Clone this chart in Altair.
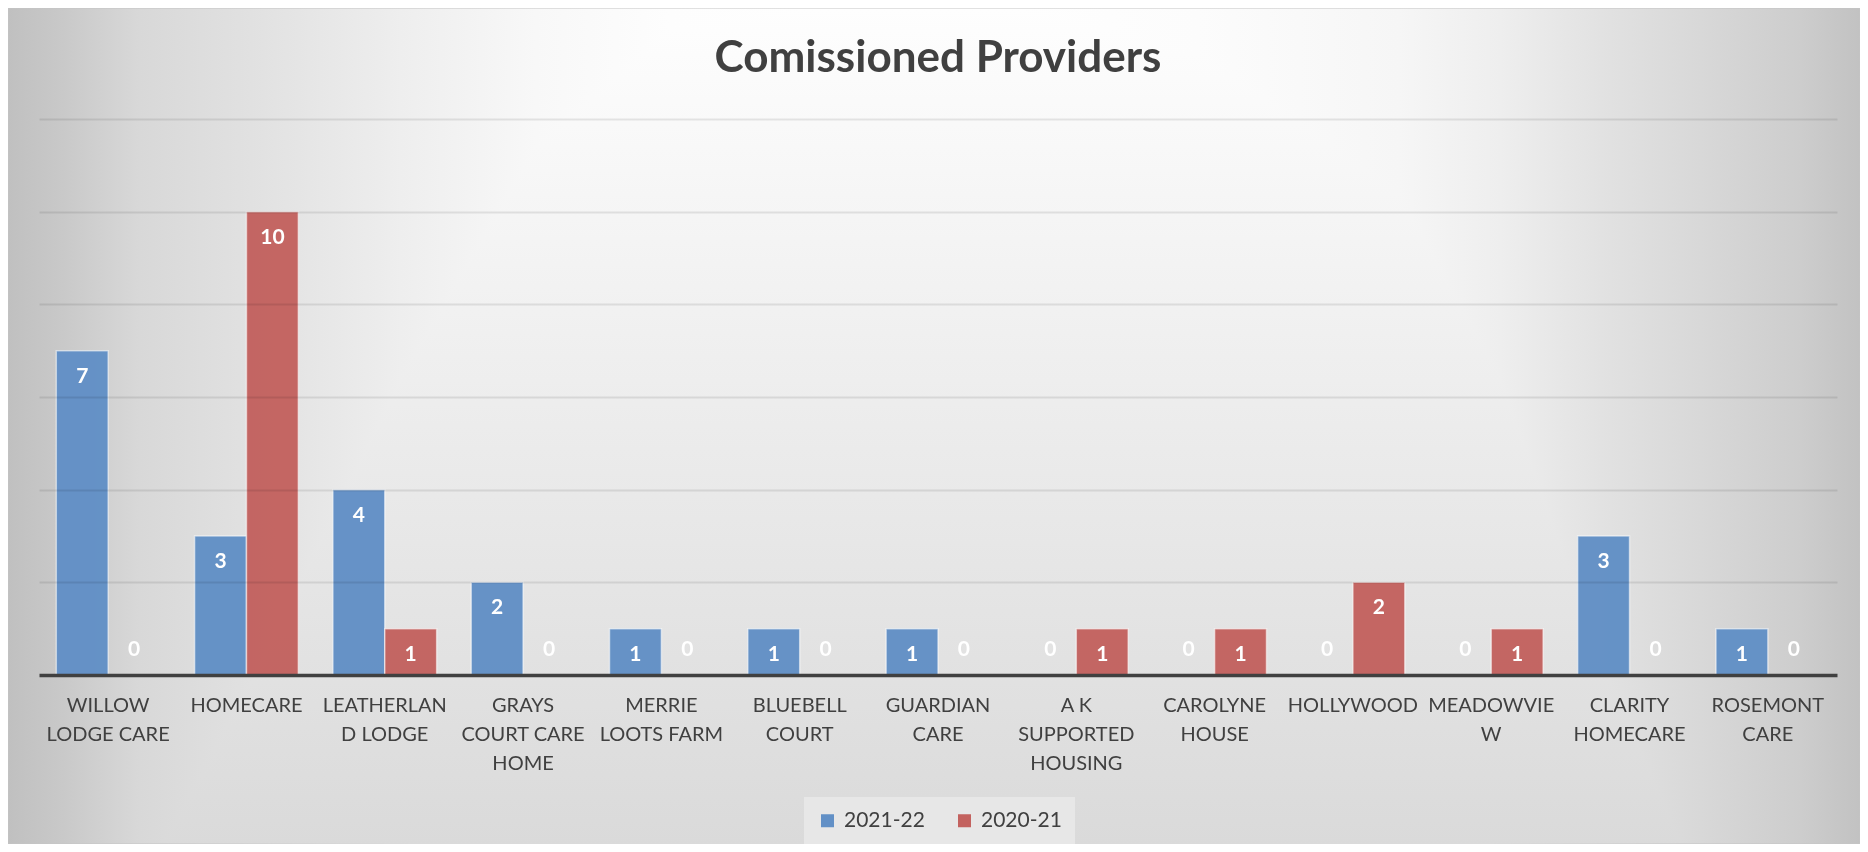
import altair as alt
import pandas as pd

# ---- data ----
categories = [
    "WILLOW|LODGE CARE", "HOMECARE", "LEATHERLAN|D LODGE", "GRAYS|COURT CARE|HOME",
    "MERRIE|LOOTS FARM", "BLUEBELL|COURT", "GUARDIAN|CARE", "A K|SUPPORTED|HOUSING",
    "CAROLYNE|HOUSE", "HOLLYWOOD", "MEADOWVIE|W", "CLARITY|HOMECARE", "ROSEMONT|CARE",
]
series_names = ["2021-22", "2020-21"]
values_2021_22 = [7, 3, 4, 2, 1, 1, 1, 0, 0, 0, 0, 3, 1]
values_2020_21 = [0, 10, 1, 0, 0, 0, 0, 1, 1, 2, 1, 0, 0]
series_colors = ["#6290C6", "#C3625F"]
grid_values = [2, 4, 6, 8, 10, 12]

rows = []
for cat, a, b in zip(categories, values_2021_22, values_2020_21):
    rows.append({"cat": cat, "series": series_names[0], "value": a})
    rows.append({"cat": cat, "series": series_names[1], "value": b})
df = pd.DataFrame(rows)

# ---- layout ----
W, H = 1798, 556
PAD = {"left": 31, "top": 111, "right": 23, "bottom": 169}
FONT = "Lato"

bg_data = alt.Data(values=[{"k": 0}])
h_stops = [
    (0.0, "#c0c0c0"), (0.027, "#c8c8c8"), (0.071, "#d8d8d8"), (0.138, "#e2e2e2"),
    (0.212, "#eeeeee"), (0.285, "#f8f8f8"), (0.357, "#fdfdfd"), (0.5, "#ffffff"),
    (0.643, "#fcfcfc"), (0.751, "#f6f6f6"), (0.806, "#eeeeee"), (0.86, "#e2e2e2"),
    (0.914, "#d8d8d8"), (0.968, "#cdcdcd"), (1.0, "#c2c2c2"),
]
v_stops = [(0.0, "#fefefe"), (1.0, "#dadada")]

bg_enc = dict(
    x=alt.value(-PAD["left"]), x2=alt.value(W + PAD["right"]),
    y=alt.value(-PAD["top"]), y2=alt.value(H + PAD["bottom"]),
)
bg_h = alt.Chart(bg_data).mark_rect(
    fill=alt.Gradient(gradient="linear", x1=0, x2=1, y1=0, y2=0,
                      stops=[alt.GradientStop(offset=o, color=c) for o, c in h_stops]),
    stroke="#c4c4c4", strokeWidth=1,
).encode(**bg_enc)
bg_v = alt.Chart(bg_data).mark_rect(
    fill=alt.Gradient(gradient="linear", x1=0, x2=0, y1=0, y2=1,
                      stops=[alt.GradientStop(offset=o, color=c) for o, c in v_stops]),
    blend="darken",
).encode(**bg_enc)

x_enc = alt.X(
    "cat:N", sort=categories, title=None,
    scale=alt.Scale(paddingInner=0.25, paddingOuter=0.125),
    axis=alt.Axis(
        labelAngle=0, labelExpr="split(datum.label, '|')", labelFont=FONT,
        labelFontSize=20, labelColor="#404040", labelLineHeight=29,
        labelPadding=20, labelBaseline="top", labelOverlap=False, labelBound=False,
        labelLimit=0, ticks=False, domainColor="#404040", domainWidth=3.5,
        grid=False, zindex=2,
    ),
)
y_enc = alt.Y(
    "value:Q", title=None,
    scale=alt.Scale(domain=[0, 12], nice=False),
    axis=alt.Axis(
        values=grid_values, labels=False, ticks=False, domain=False, grid=True,
        gridColor="#000000", gridOpacity=0.09, gridWidth=2, zindex=1,
    ),
)
xoff = alt.XOffset("series:N", sort=series_names)
color = alt.Color(
    "series:N", sort=series_names,
    scale=alt.Scale(domain=series_names, range=series_colors),
    legend=alt.Legend(
        title=None, orient="none", legendX=765, legendY=678, direction="horizontal",
        symbolType="square", symbolSize=169, symbolStrokeWidth=0, symbolOpacity=1,
        labelFont=FONT, labelFontSize=21, labelColor="#404040", labelOffset=6,
        columnPadding=29, padding=13, fillColor="#e7e7e7",
    ),
)

base = alt.Chart(df)
bars = base.mark_bar(stroke="#ffffff", strokeOpacity=0.55, strokeWidth=1.5, opacity=0.97).encode(
    x=x_enc, y=y_enc, xOffset=xoff, color=color,
).transform_filter("datum.value > 0")

lbl_style = dict(font=FONT, fontSize=21, fontWeight="bold", color="#ffffff", baseline="middle", align="center")
labels_pos = base.mark_text(dy=26, **lbl_style).encode(
    x=alt.X("cat:N", sort=categories), y=alt.Y("value:Q"), xOffset=xoff, text="value:Q",
).transform_filter("datum.value > 0")
labels_zero = base.mark_text(dy=-25, **lbl_style).encode(
    x=alt.X("cat:N", sort=categories), y=alt.Y("value:Q"), xOffset=xoff, text="value:Q",
).transform_filter("datum.value == 0")

# The title is placed relative to the union of mark bounds (the background
# panel reaches PAD["top"] above the plot), hence the negative offset.
chart = alt.layer(bg_h, bg_v, bars, labels_pos, labels_zero).properties(
    width=W, height=H,
    title=alt.TitleParams(
        "Comissioned Providers", font=FONT, fontSize=44, fontWeight="bold",
        color="#404040", anchor="middle", frame="group", baseline="alphabetic",
        offset=-108.5,
    ),
    padding=PAD,
    autosize=alt.AutoSizeParams(type="none"),
).configure_view(stroke=None)

chart.save("out.html", embed_options={"renderer": "svg", "actions": False})
